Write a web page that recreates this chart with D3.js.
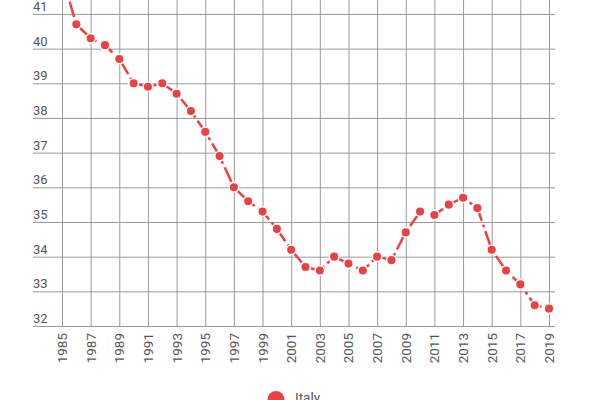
<!DOCTYPE html>
<html>
<head>
<meta charset="utf-8">
<script src="https://cdn.jsdelivr.net/npm/d3@7"></script>
<style>
  body { margin: 0; background: #fff; }
  svg { display: block; }
  text { font-family: Roboto, "Noto Sans", sans-serif; }
</style>
</head>
<body>
<svg id="chart"></svg>
<script>
// data
const years = d3.range(1985, 2020);
const italy = [42.1, 40.7, 40.3, 40.1, 39.7, 39.0, 38.9, 39.0, 38.7, 38.2,
               37.6, 36.9, 36.0, 35.6, 35.3, 34.8, 34.2, 33.7, 33.6, 34.0,
               33.8, 33.6, 34.0, 33.9, 34.7, 35.3, 35.2, 35.5, 35.7, 35.4,
               34.2, 33.6, 33.2, 32.6, 32.5];
const yTicks = [32, 33, 34, 35, 36, 37, 38, 39, 40, 41];
const xTicks = d3.range(1985, 2020, 2);
const seriesName = "Italy";

const width = 600, height = 400;
const red = "#ea4242";

const svg = d3.select("#chart")
    .attr("width", width)
    .attr("height", height)

// scales
const x = d3.scaleLinear()
    .domain([1985, 2019])
    .range([62, 549])

const y = d3.scaleLinear()
    .domain([32, 42])
    .range([326, -20.7])

// horizontal grid + y labels
const yAxis = svg.append("g")
    .attr("transform", "translate(555,0)")
    .call(d3.axisLeft(y).tickValues(yTicks).tickSize(522).tickFormat(d3.format("d")))
    .attr("font-family", null)
yAxis.select(".domain").remove()
yAxis.selectAll("line").attr("stroke", "#999")
yAxis.selectAll("text")
    .attr("x", -522)
    .attr("dy", "-3.5")
    .attr("text-anchor", "start")
    .attr("fill", "#555")
    .style("font-size", "13px")

// vertical grid + x labels
const xAxis = svg.append("g")
    .attr("transform", "translate(0,326)")
    .call(d3.axisBottom(x).tickValues(xTicks).tickSize(-360).tickFormat(d3.format("d")))
    .attr("font-family", null)
xAxis.select(".domain").remove()
xAxis.selectAll("line").attr("stroke", "#999")
xAxis.selectAll("text")
    .attr("transform", "translate(4.5,7) rotate(-90)")
    .attr("x", 0)
    .attr("y", 0)
    .attr("dy", 0)
    .attr("text-anchor", "end")
    .attr("fill", "#555")
    .style("font-size", "13.5px")

// the line
const line = d3.line()
    .x((d, i) => x(years[i]))
    .y(d => y(d))

svg.append("path")
    .datum(italy)
    .attr("fill", "none")
    .attr("stroke", red)
    .attr("stroke-width", 2.5)
    .attr("stroke-dasharray", "16,4,3,4")
    .attr("d", line)

svg.selectAll(".dot")
    .data(italy)
    .join("circle")
    .attr("class", "dot")
    .attr("cx", (d, i) => x(years[i]))
    .attr("cy", d => y(d))
    .attr("r", 4.8)
    .attr("fill", red)
    .attr("stroke", "#fff")
    .attr("stroke-width", 1.5)

// legend
svg.append("circle")
    .attr("cx", 276)
    .attr("cy", 399.5)
    .attr("r", 8.5)
    .attr("fill", red)
svg.append("text")
    .attr("x", 295)
    .attr("y", 402)
    .attr("fill", "#555")
    .style("font-size", "13.5px")
    .text(seriesName)
</script>
</body>
</html>
